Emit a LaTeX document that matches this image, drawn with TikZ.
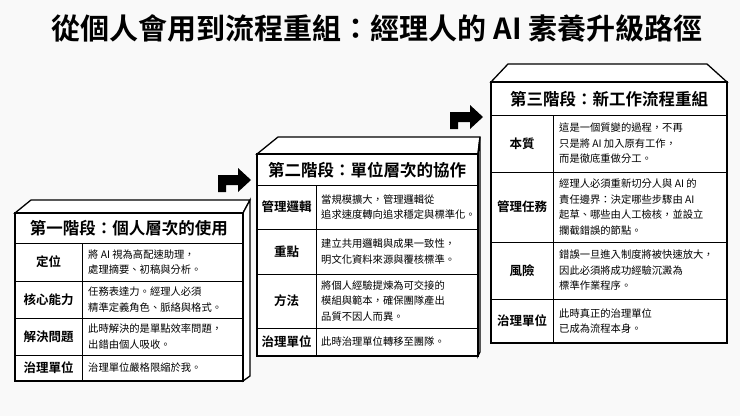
\documentclass[tikz,border=0pt]{standalone}
\usepackage{fontspec}
\setmainfont{Noto Sans CJK TC}
\newfontfamily\cjkb{Noto Sans CJK TC Bold}
\begin{document}
\begin{tikzpicture}[x=1pt,y=-1pt,line join=miter,
  box/.style={draw=black,line width=1.3pt,fill=white},
  ln/.style={draw=black,line width=0.8pt},
  lab/.style={font=\cjkb\fontsize{12.5}{14}\selectfont,anchor=center},
  txt/.style={font=\fontsize{10.3}{15.5}\selectfont,align=left,anchor=west,inner sep=0pt},
  ttl/.style={font=\cjkb\fontsize{16.5}{18}\selectfont,anchor=center},
  arr/.style={fill=black}]
\fill[white!95!gray] (0,0) rectangle (740,416);
\node (T) at (377,28) {\cjkb\fontsize{29}{32}\selectfont 從個人會用到流程重組：經理人的 AI 素養升級路徑};
% ---- box 1
\path[box] (15,213) -- (31,200) -- (250,200) -- (243,213) -- cycle;
\path[box] (243,213) -- (250,200) -- (250,376) -- (243,381) -- cycle;
\path[box] (15,213) rectangle (243,381);
\draw[ln] (15,243) -- (243,243) (15,281) -- (243,281) (15,318) -- (243,318) (15,355) -- (243,355) (82,243) -- (82,381);
\node[ttl] (b1t) at (129,228) {第一階段：個人層次的使用};
\node[lab] (b1l1) at (48.5,262) {定位};
\node[lab] (b1l2) at (48.5,299.5) {核心能力};
\node[lab] (b1l3) at (48.5,336.5) {解決問題};
\node[lab] (b1l4) at (48.5,368) {治理單位};
\node[txt] (b1c1) at (88,262) {將 AI 視為高配速助理，\\處理摘要、初稿與分析。};
\node[txt] (b1c2) at (88,299.5) {任務表達力。經理人必須\\精準定義角色、脈絡與格式。};
\node[txt] (b1c3) at (88,336.5) {此時解決的是單點效率問題，\\出錯由個人吸收。};
\node[txt] (b1c4) at (88,368) {治理單位嚴格限縮於我。};
% ---- box 2
\path[box] (257,154) -- (278,137) -- (480,137) -- (478,154) -- cycle;
\path[box] (478,154) -- (480,137) -- (480,352) -- (478,356) -- cycle;
\path[box] (257,154) rectangle (478,356);
\draw[ln] (257,185) -- (478,185) (257,229) -- (478,229) (257,274) -- (478,274) (257,328) -- (478,328) (316,185) -- (316,356);
\node[ttl] (b2t) at (367,170) {第二階段：單位層次的協作};
\node[lab] (b2l1) at (286.5,207) {管理邏輯};
\node[lab] (b2l2) at (286.5,251.5) {重點};
\node[lab] (b2l3) at (286.5,301) {方法};
\node[lab] (b2l4) at (286.5,342) {治理單位};
\node[txt] (b2c1) at (321,207) {當規模擴大，管理邏輯從\\追求速度轉向追求穩定與標準化。};
\node[txt] (b2c2) at (321,251.5) {建立共用邏輯與成果一致性，\\明文化資料來源與覆核標準。};
\node[txt] (b2c3) at (321,301) {將個人經驗提煉為可交接的\\模組與範本，確保團隊產出\\品質不因人而異。};
\node[txt] (b2c4) at (321,342) {此時治理單位轉移至團隊。};
% ---- box 3
\path[box] (491,82) -- (508,64) -- (707,64) -- (727,82) -- cycle;
\path[box] (491,82) rectangle (727,343);
\draw[ln] (491,115) -- (727,115) (491,172) -- (727,172) (491,242) -- (727,242) (491,299) -- (727,299) (553,115) -- (553,343);
\node[ttl] (b3t) at (609,99) {第三階段：新工作流程重組};
\node[lab] (b3l1) at (522,143.5) {本質};
\node[lab] (b3l2) at (522,207) {管理任務};
\node[lab] (b3l3) at (522,270.5) {風險};
\node[lab] (b3l4) at (522,321) {治理單位};
\node[txt] (b3c1) at (559,143.5) {這是一個質變的過程，不再\\只是將 AI 加入原有工作，\\而是徹底重做分工。};
\node[txt] (b3c2) at (559,207) {經理人必須重新切分人與 AI 的\\責任邊界：決定哪些步驟由 AI\\起草、哪些由人工檢核，並設立\\攔截錯誤的節點。};
\node[txt] (b3c3) at (559,270.5) {錯誤一旦進入制度將被快速放大，\\因此必須將成功經驗沉澱為\\標準作業程序。};
\node[txt] (b3c4) at (559,321) {此時真正的治理單位\\已成為流程本身。};
% ---- arrows
\fill[arr] (218,192) -- (218,175) -- (238,175) -- (238,168) -- (251,180) -- (238,192) -- (238,185) -- (226,185) -- (226,192) -- cycle;
\fill[arr] (450,129) -- (450,112) -- (470,112) -- (470,105) -- (483,117) -- (470,129) -- (470,122) -- (458,122) -- (458,129) -- cycle;
\end{tikzpicture}
\end{document}
